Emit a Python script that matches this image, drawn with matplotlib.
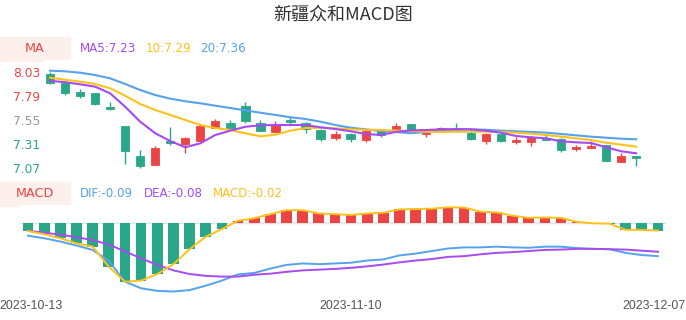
import matplotlib
matplotlib.use("Agg")
import matplotlib.pyplot as plt
from matplotlib.patches import Rectangle
from matplotlib.transforms import ScaledTranslation
import numpy as np

plt.rcParams['font.family'] = ['DejaVu Sans', 'Noto Sans CJK SC']

# ---------------- data ----------------
dates = ["2023-10-13", "2023-11-10", "2023-12-07"]
date_idx = [0, 20, 39]

open_ = [8.01, 7.92, 7.83, 7.82, 7.68, 7.49, 7.19, 7.10, 7.34, 7.31,
         7.34, 7.47, 7.52, 7.69, 7.52, 7.43, 7.55, 7.52, 7.45, 7.37,
         7.41, 7.35, 7.45, 7.46, 7.51, 7.41, 7.45, 7.45, 7.42, 7.34,
         7.41, 7.33, 7.33, 7.37, 7.36, 7.26, 7.27, 7.30, 7.13, 7.19]
close = [7.92, 7.82, 7.79, 7.71, 7.66, 7.24, 7.09, 7.27, 7.32, 7.37,
         7.49, 7.54, 7.47, 7.54, 7.44, 7.50, 7.53, 7.46, 7.36, 7.41,
         7.36, 7.44, 7.40, 7.49, 7.45, 7.42, 7.47, 7.44, 7.36, 7.41,
         7.34, 7.35, 7.38, 7.35, 7.25, 7.28, 7.29, 7.14, 7.19, 7.17]
high = [8.03, 7.94, 7.86, 7.82, 7.73, 7.49, 7.25, 7.29, 7.48, 7.38,
        7.50, 7.56, 7.55, 7.73, 7.55, 7.54, 7.58, 7.53, 7.46, 7.44,
        7.42, 7.45, 7.46, 7.52, 7.51, 7.43, 7.48, 7.52, 7.47, 7.42,
        7.41, 7.38, 7.39, 7.40, 7.37, 7.30, 7.34, 7.30, 7.22, 7.19]
low = [7.91, 7.80, 7.77, 7.70, 7.65, 7.11, 7.07, 7.10, 7.30, 7.22,
       7.34, 7.47, 7.45, 7.52, 7.44, 7.43, 7.51, 7.42, 7.34, 7.35,
       7.33, 7.33, 7.38, 7.46, 7.45, 7.38, 7.45, 7.43, 7.35, 7.31,
       7.33, 7.31, 7.29, 7.35, 7.23, 7.24, 7.27, 7.14, 7.13, 7.09]

ma5 = [7.940, 7.925, 7.905, 7.881, 7.815, 7.682, 7.533, 7.418, 7.341, 7.279,
       7.318, 7.401, 7.444, 7.483, 7.497, 7.500, 7.500, 7.500, 7.477, 7.460,
       7.438, 7.411, 7.401, 7.431, 7.447, 7.450, 7.457, 7.460, 7.457, 7.444,
       7.424, 7.391, 7.378, 7.368, 7.338, 7.328, 7.321, 7.279, 7.239, 7.219]
ma10 = [7.970, 7.950, 7.931, 7.908, 7.865, 7.791, 7.709, 7.649, 7.600, 7.550,
        7.500, 7.470, 7.450, 7.418, 7.388, 7.404, 7.444, 7.470, 7.473, 7.467,
        7.457, 7.453, 7.450, 7.444, 7.441, 7.434, 7.431, 7.434, 7.434, 7.434,
        7.431, 7.424, 7.414, 7.401, 7.384, 7.368, 7.351, 7.324, 7.305, 7.285]
ma20 = [8.040, 8.034, 8.020, 7.997, 7.964, 7.908, 7.848, 7.798, 7.762, 7.736,
        7.716, 7.692, 7.669, 7.646, 7.622, 7.600, 7.577, 7.560, 7.533, 7.500,
        7.473, 7.457, 7.440, 7.431, 7.418, 7.431, 7.444, 7.453, 7.457, 7.453,
        7.444, 7.438, 7.431, 7.424, 7.411, 7.398, 7.384, 7.374, 7.364, 7.358]

dif = [-0.034, -0.041, -0.050, -0.061, -0.073, -0.103, -0.160, -0.178, -0.185, -0.187,
       -0.183, -0.171, -0.157, -0.140, -0.136, -0.124, -0.114, -0.110, -0.112, -0.110,
       -0.108, -0.102, -0.099, -0.088, -0.083, -0.076, -0.069, -0.066, -0.066, -0.064,
       -0.066, -0.067, -0.064, -0.064, -0.068, -0.070, -0.071, -0.081, -0.087, -0.090]
dea = [-0.020, -0.026, -0.031, -0.038, -0.046, -0.058, -0.077, -0.096, -0.114, -0.129,
       -0.139, -0.144, -0.146, -0.146, -0.141, -0.138, -0.133, -0.129, -0.127, -0.125,
       -0.122, -0.118, -0.113, -0.107, -0.102, -0.098, -0.092, -0.090, -0.085, -0.081,
       -0.079, -0.076, -0.073, -0.072, -0.070, -0.070, -0.071, -0.072, -0.075, -0.078]
macd = [-0.021, -0.030, -0.041, -0.055, -0.064, -0.119, -0.160, -0.157, -0.139, -0.112,
        -0.071, -0.037, -0.016, 0.007, 0.014, 0.025, 0.036, 0.036, 0.027, 0.025,
        0.023, 0.027, 0.029, 0.038, 0.039, 0.040, 0.044, 0.043, 0.032, 0.030,
        0.021, 0.015, 0.016, 0.015, 0.004, 0.000, -0.001, -0.018, -0.018, -0.020]

yticks = [7.07, 7.31, 7.55, 7.79, 8.03]
ytick_colors = ['#2aa689', '#2aa689', '#999999', '#eb4444', '#eb4444']

# ---------------- style ----------------
RED = '#eb4444'
GREEN = '#2aa689'
PURPLE = '#a64af2'
YELLOW = '#fcc21b'
BLUE = '#55a2ee'
W, H = 686, 320

fig = plt.figure(figsize=(W / 100, H / 100), dpi=100)


def px_axes(x0, y0, x1, y1):
    return fig.add_axes([x0 / W, 1 - y1 / H, (x1 - x0) / W, (y1 - y0) / H])


# ---------- top panel ----------
top_y0, top_y1 = 60, 178
ref_y, ref_p, ppu = 71.7, 8.03, 100.6  # pixel mapping
ax = px_axes(42.5, top_y0, 643.7, top_y1)
ax.set_xlim(-0.5, 39.5)
ax.set_ylim(ref_p - (top_y1 - ref_y) / ppu, ref_p + (ref_y - top_y0) / ppu)
for s in ax.spines.values():
    s.set_visible(False)
ax.set_xticks([])

n = len(open_)
x = np.arange(n)
o = np.array(open_); c = np.array(close); hi = np.array(high); lo = np.array(low)
up = c >= o
cols = [RED if u else GREEN for u in up]
ax.vlines(x, lo, hi, colors=cols, lw=1.0, zorder=2)
bottoms = np.minimum(o, c)
heights = np.maximum(np.abs(c - o), 0.012)
ax.bar(x, heights, bottom=bottoms, width=0.55, color=cols, edgecolor=cols, lw=0.6, zorder=3)

ax.plot(x, ma20, color=BLUE, lw=1.5, zorder=4)
ax.plot(x, ma10, color=YELLOW, lw=1.5, zorder=4)
ax.plot(x, ma5, color=PURPLE, lw=1.5, zorder=4)

ax.set_yticks(yticks)
ax.set_yticklabels([f"{v:.2f}" for v in yticks], fontsize=8.8)
for lab, col in zip(ax.get_yticklabels(), ytick_colors):
    lab.set_color(col)
ax.tick_params(axis='y', length=0, pad=1.5)

# ---------- macd panel ----------
m_y0, m_y1 = 205, 296
zero_y, mppu = 223.3, 365.0
bx = px_axes(20, m_y0, 666, m_y1)
bx.set_xlim(-0.5, 39.5)
bx.set_ylim(-(m_y1 - zero_y) / mppu, (zero_y - m_y0) / mppu)
for s in bx.spines.values():
    s.set_visible(False)
bx.set_yticks([])
bx.axhline(0, color='#e3e3e3', lw=1.0, zorder=1)
mv = np.array(macd)
bcols = [RED if v > 0 else GREEN for v in mv]
bx.bar(x, mv, width=0.66, color=bcols, zorder=2)
bx.plot(x, dif, color=BLUE, lw=1.4, zorder=3)
bx.plot(x, dea, color=PURPLE, lw=1.4, zorder=3)
bx.plot(x, macd, color=YELLOW, lw=1.4, zorder=4)

bx.set_xticks(date_idx)
bx.set_xticklabels(dates, fontsize=8.9, color='#555555', family='Liberation Sans')
bx.tick_params(axis='x', length=0, pad=3)
xlabs = bx.get_xticklabels()
xlabs[0].set_ha('left')
xlabs[-1].set_ha('right')
xlabs[0].set_transform(xlabs[0].get_transform() + ScaledTranslation(-28.3 / 100, 0, fig.dpi_scale_trans))
xlabs[-1].set_transform(xlabs[-1].get_transform() + ScaledTranslation(28.0 / 100, 0, fig.dpi_scale_trans))

# ---------- title & legends ----------
fig.text(343 / W, 1 - 15 / H, "新疆众和MACD图", ha='center', va='center',
         fontsize=13, color='#333333', family=['Noto Sans CJK SC', 'DejaVu Sans'])

for (by0, by1, label) in [(36.7, 60.7, "MA"), (181.7, 205.7, "MACD")]:
    fig.add_artist(Rectangle((0, 1 - by1 / H), 70 / W, (by1 - by0) / H,
                             transform=fig.transFigure, color='#fdf0ec', zorder=0))
    fig.text(35 / W, 1 - ((by0 + by1) / 2) / H, label, ha='center', va='center',
             fontsize=9.2, color=RED)

for xl, txt, col in [(80, "MA5:7.23", PURPLE), (145.5, "10:7.29", YELLOW), (200.5, "20:7.36", BLUE)]:
    fig.text(xl / W, 1 - 48.5 / H, txt, ha='left', va='center', fontsize=8.6, color=col)
for xl, txt, col in [(79.5, "DIF:-0.09", BLUE), (144, "DEA:-0.08", PURPLE), (212.7, "MACD:-0.02", YELLOW)]:
    fig.text(xl / W, 1 - 193.5 / H, txt, ha='left', va='center', fontsize=8.6, color=col)

fig.savefig("out.png", dpi=100)
